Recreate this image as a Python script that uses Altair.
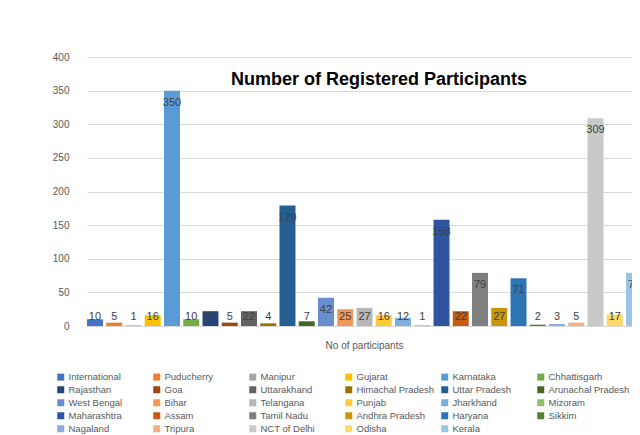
import altair as alt
import pandas as pd

states = ["International", "Puducherry", "Manipur", "Gujarat", "Karnataka", "Chhattisgarh",
          "Rajasthan", "Goa", "Uttarakhand", "Himachal Pradesh", "Uttar Pradesh", "Arunachal Pradesh",
          "West Bengal", "Bihar", "Telangana", "Punjab", "Jharkhand", "Mizoram",
          "Maharashtra", "Assam", "Tamil Nadu", "Andhra Pradesh", "Haryana", "Sikkim",
          "Nagaland", "Tripura", "NCT of Delhi", "Odisha", "Kerala"]
values = [10, 5, 1, 16, 350, 10,
          22, 5, 22, 4, 179, 7,
          42, 25, 27, 16, 12, 1,
          158, 22, 79, 27, 71, 2,
          3, 5, 309, 17, 79]
colors = ["#4472C4", "#ED7D31", "#A5A5A5", "#FFC000", "#5B9BD5", "#70AD47",
          "#264478", "#9E480E", "#636363", "#997300", "#255E91", "#43682B",
          "#698ED0", "#F1975A", "#B7B7B7", "#FFCD33", "#7CAFDD", "#8CC168",
          "#2F55A0", "#C55A11", "#7F7F7F", "#C8960A", "#2E75B6", "#548235",
          "#8FAADC", "#F4B183", "#C9C9C9", "#FFD966", "#9DC3E6"]
y_ticks = [0, 50, 100, 150, 200, 250, 300, 350, 400]

df = pd.DataFrame({"state": states, "value": values})

FONT = "Liberation Sans"


def x_axis():
    return alt.Axis(labels=False, ticks=False, title="No of participants",
                    domainColor="#d9d9d9", titleFont=FONT, titleFontSize=10,
                    titleFontWeight="normal", titleColor="#595959",
                    titleX=286, titleY=19, titleBaseline="middle")


def y_axis():
    return alt.Axis(values=y_ticks, title=None, ticks=False, labelOverlap=False,
                    domain=False, gridColor="#d9d9d9", labelColor="#595959",
                    labelFont=FONT, labelFontSize=10, labelPadding=9)


xscale = alt.Scale(range=[9, 564], paddingInner=0.17, paddingOuter=0)
yscale = alt.Scale(domain=[0, 400])

base = alt.Chart(df)

bars = base.mark_bar(clip=True).encode(
    x=alt.X("state:N", sort=states, scale=xscale, axis=x_axis()),
    y=alt.Y("value:Q", scale=yscale, axis=y_axis()),
    color=alt.Color("state:N", sort=states,
                    scale=alt.Scale(domain=states, range=colors),
                    legend=alt.Legend(orient="none", legendX=-22, legendY=315, title=None,
                                      direction="horizontal",
                                      columns=6, gridAlign="all", columnPadding=2,
                                      rowPadding=2, symbolType="square", symbolSize=49,
                                      symbolStrokeWidth=0, labelFont=FONT, labelFontSize=9.5,
                                      labelColor="#595959", labelOffset=3, labelLimit=200)),
)

labels = base.transform_calculate(ly="max(datum.value - 18, 14)").mark_text(
    clip=True, baseline="middle", align="center", font=FONT, fontSize=11, color="#404040"
).encode(
    x=alt.X("state:N", sort=states, scale=xscale, axis=x_axis()),
    y=alt.Y("ly:Q", scale=yscale, axis=y_axis()),
    text=alt.Text("value:Q"),
)

chart = alt.layer(bars, labels).properties(
    width=554, height=269,
    title=alt.TitleParams("Number of Registered Participants", font=FONT, fontSize=18,
                          fontWeight="bold", color="#000000", anchor="middle",
                          frame="group", offset=0, baseline="middle", dx=24, dy=46),
    autosize=alt.AutoSizeParams(type="none"),
    padding={"left": 70, "top": 49, "right": 0, "bottom": 109},
).configure_view(stroke=None)

chart.save("out.html", embed_options={"renderer": "svg", "actions": False})
